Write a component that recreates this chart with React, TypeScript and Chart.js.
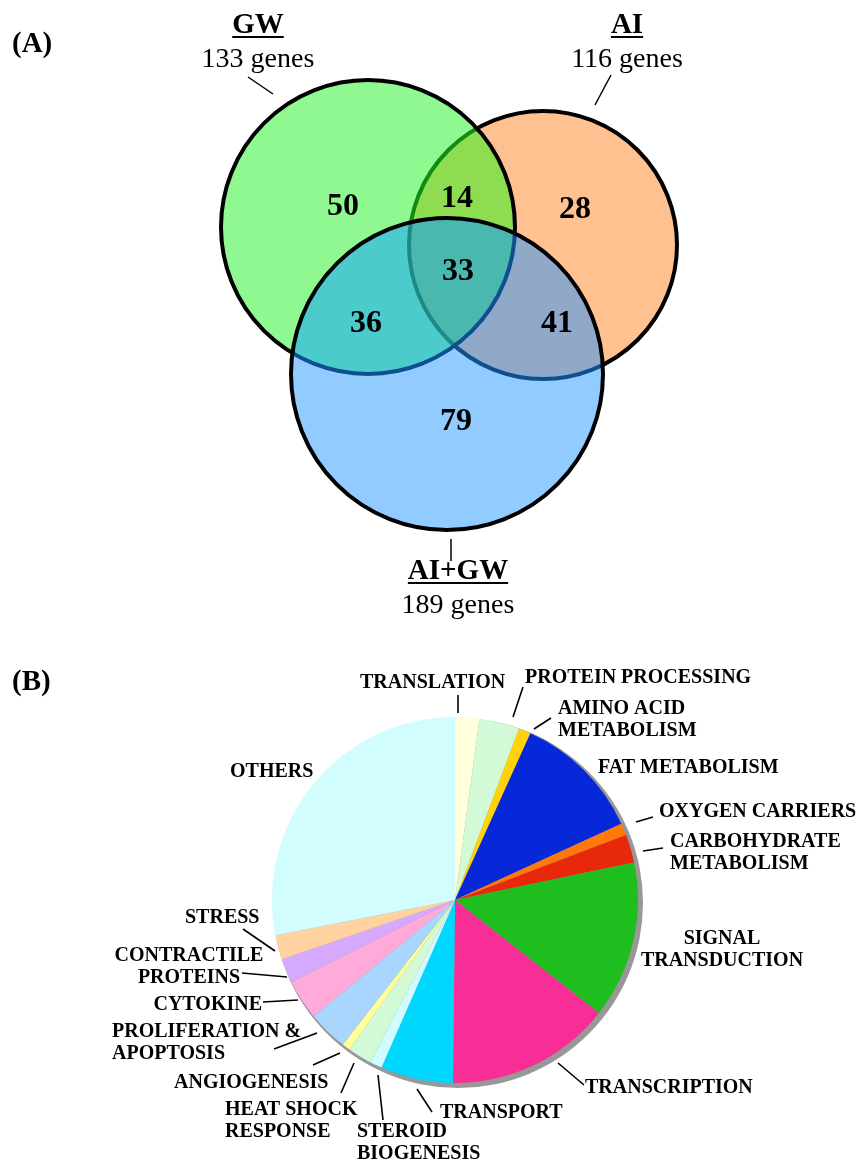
import React, { useEffect, useRef } from "react";
import { Chart, registerables } from "chart.js";
Chart.register(...registerables);

// ---------------- DATA ----------------
// Venn (A)
const vennSetNames = ["GW", "AI", "AI+GW"];
const vennSetSizes = [133, 116, 189];
// regions: GW only, GW∩AI, AI only, GW∩(AI+GW), all three, AI∩(AI+GW), AI+GW only
const vennRegionMembership = [[0], [0, 1], [1], [0, 2], [0, 1, 2], [1, 2], [2]];
const vennRegionCounts = [50, 14, 28, 36, 33, 41, 79];

// Pie (B) — gene counts per functional category (clockwise from 12 o'clock)
const pieCategories = [
  "TRANSLATION",
  "PROTEIN PROCESSING",
  "AMINO ACID METABOLISM",
  "FAT METABOLISM",
  "OXYGEN CARRIERS",
  "CARBOHYDRATE METABOLISM",
  "SIGNAL TRANSDUCTION",
  "TRANSCRIPTION",
  "TRANSPORT",
  "STEROID BIOGENESIS",
  "HEAT SHOCK RESPONSE",
  "ANGIOGENESIS",
  "PROLIFERATION & APOPTOSIS",
  "CYTOKINE",
  "CONTRACTILE PROTEINS",
  "STRESS",
  "OTHERS",
];
const pieCounts = [6, 10, 3, 32, 3, 7, 39, 41, 18, 3, 6, 2, 10, 10, 6, 6, 79];

// ---------------- LAYOUT / STYLE ----------------
const W = 858;
const H = 1163;
const VENN_H = 640;
const SERIF = '"Liberation Serif", "Times New Roman", Times, serif';

// Venn circle geometry on a hidden 1:1 linear scale
const VENN_CX = [368, 543, 447];
const VENN_CY = [227, 245, 374];
const VENN_R = [147, 134, 156];
const REGION_FILL = ["#90F890", "#8EDC50", "#FFC190", "#4BCBCB", "#4BB8B0", "#90A9C8", "#91CBFF"];
const REGION_X = [343, 457, 575, 366, 458, 557, 456];
const REGION_Y = [215, 207, 218, 332, 280, 332, 430];

const SET_LABEL = [
  { cx: 258, nameY: 33, sizeY: 67, leader: [248, 77, 273, 94] },
  { cx: 627, nameY: 33, sizeY: 67, leader: [611, 75, 595, 105] },
  { cx: 458, nameY: 579, sizeY: 613, leader: [451, 539, 451, 561] },
];

const PIE_COLORS = [
  "#FFFFDC", "#D2FAD6", "#FFD20A", "#0628D8", "#FF780A", "#E8280A", "#1EBE1E",
  "#F72E96", "#00D7FF", "#D0FBFF", "#D2FAD6", "#FFFF9A", "#A8D6FF", "#FFAAD8",
  "#D6AAFF", "#FFD2A0", "#D2FDFF",
];

type PieLabel = {
  lines: string[];
  x: number;
  y: number;
  align: CanvasTextAlign;
  leader?: number[];
};
const PIE_LABELS: PieLabel[] = [
  { lines: ["TRANSLATION"], x: 360, y: 688, align: "left", leader: [458, 695, 458, 713] },
  { lines: ["PROTEIN PROCESSING"], x: 525, y: 683, align: "left", leader: [523, 687, 513, 717] },
  { lines: ["AMINO ACID", "METABOLISM"], x: 558, y: 714, align: "left", leader: [551, 718, 534, 729] },
  { lines: ["FAT METABOLISM"], x: 598, y: 773, align: "left" },
  { lines: ["OXYGEN CARRIERS"], x: 659, y: 817, align: "left", leader: [653, 817, 636, 822] },
  { lines: ["CARBOHYDRATE", "METABOLISM"], x: 670, y: 847, align: "left", leader: [663, 848, 643, 851] },
  { lines: ["SIGNAL", "TRANSDUCTION"], x: 722, y: 944, align: "center" },
  { lines: ["TRANSCRIPTION"], x: 585, y: 1093, align: "left", leader: [558, 1063, 584, 1085] },
  { lines: ["TRANSPORT"], x: 440, y: 1118, align: "left", leader: [417, 1089, 432, 1112] },
  { lines: ["STEROID", "BIOGENESIS"], x: 357, y: 1137, align: "left", leader: [378, 1075, 383, 1120] },
  { lines: ["HEAT SHOCK", "RESPONSE"], x: 225, y: 1115, align: "left", leader: [354, 1063, 341, 1093] },
  { lines: ["ANGIOGENESIS"], x: 174, y: 1088, align: "left", leader: [340, 1053, 313, 1065] },
  { lines: ["PROLIFERATION &", "APOPTOSIS"], x: 112, y: 1037, align: "left", leader: [317, 1033, 274, 1049] },
  { lines: ["CYTOKINE"], x: 262, y: 1010, align: "right", leader: [263, 1002, 298, 1000] },
  { lines: ["CONTRACTILE", "PROTEINS"], x: 189, y: 961, align: "center", leader: [242, 973, 287, 977] },
  { lines: ["STRESS"], x: 185, y: 923, align: "left", leader: [243, 929, 275, 951] },
  { lines: ["OTHERS"], x: 230, y: 777, align: "left" },
];

// ---------------- PLUGINS ----------------
const vennPlugin = {
  id: "vennDraw",
  beforeDatasetsDraw(chart: any) {
    const { ctx } = chart;
    const xs = chart.scales.x;
    const ys = chart.scales.y;
    const cw = chart.width;
    const ch = chart.height;
    const circles = VENN_CX.map((cx, i) => ({
      x: xs.getPixelForValue(cx),
      y: ys.getPixelForValue(VENN_CY[i]),
      r: Math.abs(xs.getPixelForValue(cx + VENN_R[i]) - xs.getPixelForValue(cx)),
    }));
    const clipIn = (c: any) => {
      ctx.beginPath();
      ctx.arc(c.x, c.y, c.r, 0, Math.PI * 2);
      ctx.clip();
    };
    const clipOut = (c: any) => {
      ctx.beginPath();
      ctx.rect(-20, -20, cw + 40, ch + 40);
      ctx.moveTo(c.x + c.r, c.y);
      ctx.arc(c.x, c.y, c.r, 0, Math.PI * 2);
      ctx.clip("evenodd");
    };
    // region fills
    vennRegionMembership.forEach((sets, k) => {
      ctx.save();
      circles.forEach((c, i) => (sets.includes(i) ? clipIn(c) : clipOut(c)));
      ctx.fillStyle = REGION_FILL[k];
      ctx.fillRect(0, 0, cw, ch);
      ctx.restore();
    });
    // outlines
    const outlineColor = (i: number, inside: number[]) => {
      if (i === 0) return inside.includes(2) ? "#0D4F8F" : "#000";
      if (i === 1) {
        const a = inside.includes(0);
        const b = inside.includes(2);
        if (a && b) return "#1E8A86";
        if (a) return "#0E8E0E";
        if (b) return "#0D4F8F";
        return "#000";
      }
      return "#000";
    };
    [1, 0, 2].forEach((i) => {
      const others = [0, 1, 2].filter((j) => j !== i);
      for (let m = 0; m < 4; m++) {
        const inside: number[] = [];
        ctx.save();
        others.forEach((j, q) => {
          if (m & (1 << q)) {
            inside.push(j);
            clipIn(circles[j]);
          } else clipOut(circles[j]);
        });
        ctx.beginPath();
        ctx.arc(circles[i].x, circles[i].y, circles[i].r, 0, Math.PI * 2);
        ctx.lineWidth = 4;
        ctx.strokeStyle = outlineColor(i, inside);
        ctx.stroke();
        ctx.restore();
      }
    });
  },
  afterDatasetsDraw(chart: any) {
    const { ctx } = chart;
    const meta = chart.getDatasetMeta(0);
    ctx.save();
    ctx.fillStyle = "#000";
    ctx.textAlign = "center";
    ctx.textBaseline = "alphabetic";
    ctx.font = `bold 32px ${SERIF}`;
    meta.data.forEach((pt: any, i: number) => {
      ctx.fillText(String(vennRegionCounts[i]), pt.x, pt.y);
    });
    // panel letter
    ctx.textAlign = "left";
    ctx.font = `bold 29px ${SERIF}`;
    ctx.fillText("(A)", 12, 52);
    // set labels
    const xs = chart.scales.x;
    const ys = chart.scales.y;
    vennSetNames.forEach((name, i) => {
      const L = SET_LABEL[i];
      const cx = xs.getPixelForValue(L.cx);
      ctx.textAlign = "center";
      ctx.font = `bold 29px ${SERIF}`;
      const ny = ys.getPixelForValue(L.nameY);
      ctx.fillText(name, cx, ny);
      const w = ctx.measureText(name).width;
      ctx.fillRect(cx - w / 2, ny + 3, w, 2);
      ctx.font = `28px ${SERIF}`;
      ctx.fillText(`${vennSetSizes[i]} genes`, cx, ys.getPixelForValue(L.sizeY));
      const [x1, y1, x2, y2] = L.leader;
      ctx.beginPath();
      ctx.moveTo(xs.getPixelForValue(x1), ys.getPixelForValue(y1));
      ctx.lineTo(xs.getPixelForValue(x2), ys.getPixelForValue(y2));
      ctx.lineWidth = 1.5;
      ctx.strokeStyle = "#000";
      ctx.stroke();
    });
    ctx.restore();
  },
};

const piePlugin = {
  id: "pieDecor",
  beforeDatasetsDraw(chart: any) {
    const { ctx } = chart;
    const arc = chart.getDatasetMeta(0).data[0];
    if (!arc) return;
    ctx.save();
    ctx.beginPath();
    ctx.arc(arc.x + 3, arc.y + 3, arc.outerRadius + 2, 0, Math.PI * 2);
    ctx.fillStyle = "#989898";
    ctx.fill();
    ctx.restore();
  },
  afterDraw(chart: any) {
    const { ctx } = chart;
    ctx.save();
    ctx.fillStyle = "#000";
    ctx.strokeStyle = "#000";
    ctx.textBaseline = "alphabetic";
    ctx.textAlign = "left";
    ctx.font = `bold 29px ${SERIF}`;
    ctx.fillText("(B)", 12, 690);
    ctx.font = `bold 20px ${SERIF}`;
    PIE_LABELS.forEach((L) => {
      ctx.textAlign = L.align;
      L.lines.forEach((t, k) => ctx.fillText(t, L.x, L.y + k * 22));
      if (L.leader) {
        const [x1, y1, x2, y2] = L.leader;
        ctx.beginPath();
        ctx.moveTo(x1, y1);
        ctx.lineTo(x2, y2);
        ctx.lineWidth = 1.6;
        ctx.stroke();
      }
    });
    ctx.restore();
  },
};

// ---------------- COMPONENT ----------------
export default function App() {
  const vennRef = useRef<HTMLCanvasElement>(null);
  const pieRef = useRef<HTMLCanvasElement>(null);

  useEffect(() => {
    const venn = new Chart(vennRef.current as HTMLCanvasElement, {
      type: "scatter",
      data: {
        datasets: [
          {
            label: "regions",
            data: vennRegionCounts.map((_, i) => ({ x: REGION_X[i], y: REGION_Y[i] })),
            pointRadius: 0,
            pointHoverRadius: 0,
          },
        ],
      },
      options: {
        animation: false,
        responsive: false,
        events: [],
        layout: { padding: 0 },
        plugins: { legend: { display: false }, tooltip: { enabled: false } },
        scales: {
          x: { type: "linear", min: 0, max: W, display: false },
          y: { type: "linear", min: 0, max: VENN_H, reverse: true, display: false },
        },
      },
      plugins: [vennPlugin],
    });

    const pie = new Chart(pieRef.current as HTMLCanvasElement, {
      type: "pie",
      data: {
        labels: pieCategories,
        datasets: [
          {
            data: pieCounts,
            backgroundColor: PIE_COLORS,
            borderWidth: 0,
          },
        ],
      },
      options: {
        animation: false,
        responsive: false,
        events: [],
        layout: { padding: { left: 272, right: 220, top: 717, bottom: 80 } },
        plugins: { legend: { display: false }, tooltip: { enabled: false } },
      },
      plugins: [piePlugin],
    });

    return () => {
      venn.destroy();
      pie.destroy();
    };
  }, []);

  return (
    <div style={{ position: "absolute", left: 0, top: 0, width: W, height: H, background: "#fff" }}>
      <canvas
        ref={pieRef}
        width={W}
        height={H}
        style={{ position: "absolute", left: 0, top: 0, width: W, height: H }}
      />
      <canvas
        ref={vennRef}
        width={W}
        height={VENN_H}
        style={{ position: "absolute", left: 0, top: 0, width: W, height: VENN_H }}
      />
    </div>
  );
}
